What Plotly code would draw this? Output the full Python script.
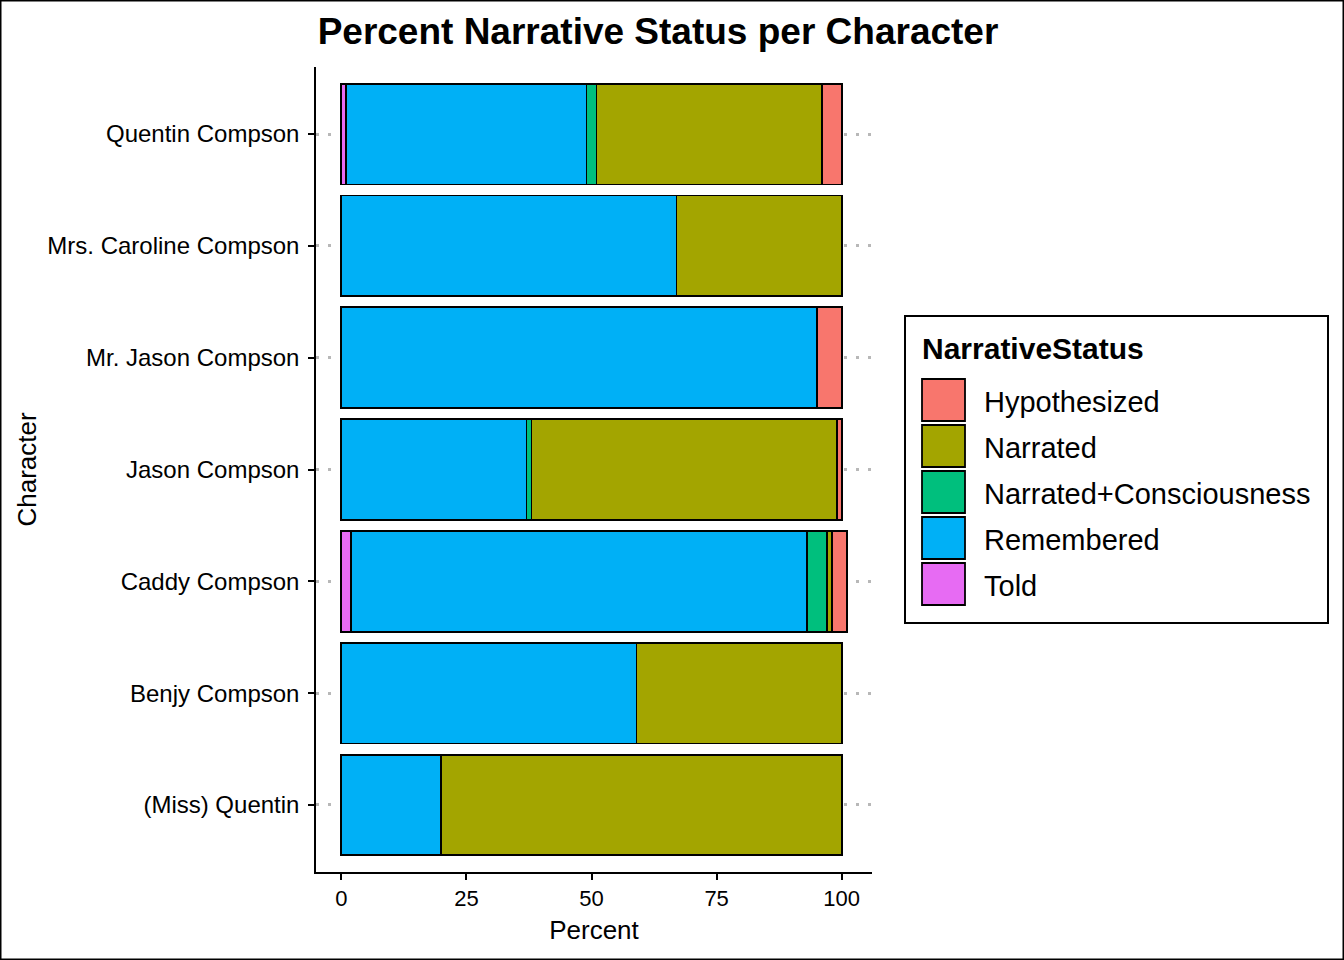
import plotly.graph_objects as go

characters = ["(Miss) Quentin", "Benjy Compson", "Caddy Compson", "Jason Compson",
              "Mr. Jason Compson", "Mrs. Caroline Compson", "Quentin Compson"]
statuses = ["Hypothesized", "Narrated", "Narrated+Consciousness", "Remembered", "Told"]
colors = ["#F8766D", "#A3A500", "#00BF7D", "#00B0F6", "#E76BF3"]

hypothesized = [0, 0, 3, 1, 5, 0, 4]
narrated = [80, 41, 1, 61, 0, 33, 45]
narrated_consciousness = [0, 0, 4, 1, 0, 0, 2]
remembered = [20, 59, 91, 37, 95, 67, 48]
told = [0, 0, 2, 0, 0, 0, 1]

values = {
    "Hypothesized": hypothesized,
    "Narrated": narrated,
    "Narrated+Consciousness": narrated_consciousness,
    "Remembered": remembered,
    "Told": told,
}

FONT = "Liberation Sans, Arial, sans-serif"

fig = go.Figure()
# stack from zero: last legend level nearest the axis
for name, col in reversed(list(zip(statuses, colors))):
    vals = [v if v != 0 else None for v in values[name]]
    fig.add_trace(go.Bar(
        y=characters, x=vals, name=name, orientation="h",
        marker=dict(color=col, line=dict(color="black", width=1.8)),
        width=0.9, showlegend=False,
    ))

# plot area geometry (pixels) for paper-coordinate conversions
L, R, T, B = 316, 872, 67, 872
W, H = 1344, 960
def px(p):
    return (p - L) / (R - L)
def py(p):
    return (B - p) / (B - T)

shapes = []
annotations = []
# legend box
shapes.append(dict(type="rect", xref="paper", yref="paper",
                   x0=px(905), x1=px(1328), y0=py(623), y1=py(316),
                   line=dict(color="black", width=2), fillcolor="white", layer="above"))
annotations.append(dict(text="<b>NarrativeStatus</b>", xref="paper", yref="paper",
                        x=px(920), y=py(348), xanchor="left", yanchor="middle",
                        showarrow=False, font=dict(family=FONT, size=30, color="black")))
for i, (name, col) in enumerate(zip(statuses, colors)):
    c = 400 + 46 * i
    shapes.append(dict(type="rect", xref="paper", yref="paper",
                       x0=px(922), x1=px(965), y0=py(c + 21), y1=py(c - 21),
                       line=dict(color="black", width=1.8), fillcolor=col, layer="above"))
    annotations.append(dict(text=name, xref="paper", yref="paper",
                            x=px(982), y=py(c + 2), xanchor="left", yanchor="middle",
                            showarrow=False, font=dict(family=FONT, size=29, color="black")))
# outer border
shapes.append(dict(type="rect", xref="paper", yref="paper",
                   x0=px(0.75), x1=px(W - 0.75), y0=py(H - 0.75), y1=py(0.75),
                   line=dict(color="black", width=1.5), layer="above"))

fig.update_layout(
    width=W, height=H,
    margin=dict(l=L, r=W - R, t=T, b=H - B, autoexpand=False),
    barmode="stack",
    paper_bgcolor="white", plot_bgcolor="white",
    font=dict(family=FONT, color="black"),
    title=dict(text="<b>Percent Narrative Status per Character</b>",
               x=658 / W, xanchor="center", y=1 - 31 / H, yanchor="middle",
               xref="container", yref="container",
               font=dict(family=FONT, size=37, color="black")),
    xaxis=dict(range=[-5.05, 106.05], tickvals=[0, 25, 50, 75, 100],
               showgrid=False, zeroline=False,
               showline=True, linecolor="black", linewidth=1.5,
               ticks="outside", ticklen=6, tickwidth=1.5, tickcolor="black",
               tickfont=dict(family=FONT, size=22, color="black"),
               title=dict(text="Percent", standoff=11,
                          font=dict(family=FONT, size=26, color="black"))),
    yaxis=dict(type="category", categoryorder="array", categoryarray=characters,
               range=[-0.6, 6.6],
               showgrid=True, gridcolor="#B8B8B8", gridwidth=2.5, griddash="3px,9px",
               zeroline=False,
               showline=True, linecolor="black", linewidth=1.5,
               ticks="outside", ticklen=6, tickwidth=1.5, tickcolor="black",
               ticklabelstandoff=4,
               tickfont=dict(family=FONT, size=24, color="black"),
               title=dict(text="Character", standoff=3,
                          font=dict(family=FONT, size=26, color="black"))),
    shapes=shapes,
    annotations=annotations,
)

fig.write_html("out.html", config={"displayModeBar": False},
               post_script="document.body.style.margin='0';document.body.style.padding='0';")
